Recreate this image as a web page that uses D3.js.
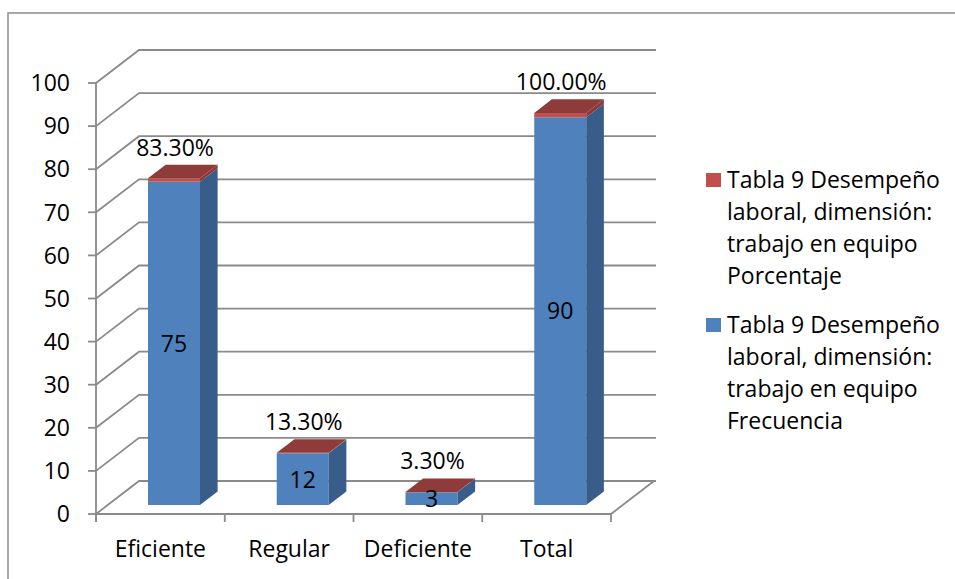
<!DOCTYPE html>
<html>
<head>
<meta charset="utf-8">
<script src="https://cdn.jsdelivr.net/npm/d3@7/dist/d3.min.js"></script>
<style>
  html, body { margin: 0; padding: 0; background: #fff; }
  svg { display: block; }
  text { font-family: "Open Sans", "Noto Sans", sans-serif; fill: #000; }
</style>
</head>
<body>
<svg id="chart" width="955" height="579"></svg>
<script>
// Categories and the two stacked series
const categories = ["Eficiente", "Regular", "Deficiente", "Total"];
const frecuencia = [75, 12, 3, 90];
const porcentaje = [0.833, 0.133, 0.033, 1.0];
const yTicks = [0, 10, 20, 30, 40, 50, 60, 70, 80, 90, 100];
const legendLabels = [
  ["Tabla 9 Desempeño", "laboral, dimensión:", "trabajo en equipo", "Porcentaje"],
  ["Tabla 9 Desempeño", "laboral, dimensión:", "trabajo en equipo", "Frecuencia"]
];

const svg = d3.select("#chart");

// Outer frame
svg.append("rect")
  .attr("x", 8).attr("y", 13).attr("width", 1000).attr("height", 700)
  .attr("fill", "none").attr("stroke", "#8c8c8c").attr("stroke-width", 1.5);

// Plot geometry: front plane and oblique depth vector
const left = 96, right = 611;
const DX = 43, DY = 33;
const x = d3.scaleBand().domain(categories).range([left, right]).padding(0);
const y = d3.scaleLinear().domain([0, 100]).range([514, 83]);

// project a point (screen x on front plane, value, depth 0..1)
const P = (px, v, z) => [px + z * DX, y(v) - z * DY];

const grid = svg.append("g").attr("stroke", "#8a8a8a").attr("stroke-width", 1.8).attr("fill", "none");

// Gridlines: left wall diagonal + back wall horizontal
yTicks.forEach(v => {
  const a = P(left, v, 0), b = P(left, v, 1), c = P(right + 2, v, 1);
  grid.append("path").attr("d", `M${a[0]},${a[1]}L${b[0]},${b[1]}L${c[0]},${c[1]}`);
});

// Floor front and right edges
{
  const a = P(left, 0, 0), b = P(right, 0, 0), c = P(right, 0, 1);
  grid.append("path").attr("d", `M${a[0]},${a[1]}L${b[0]},${b[1]}L${c[0]},${c[1]}`);
}

// Vertical value axis with ticks
grid.append("line").attr("x1", left).attr("x2", left).attr("y1", y(100)).attr("y2", y(0) + 8);
yTicks.forEach(v => {
  grid.append("line").attr("x1", left - 8).attr("x2", left).attr("y1", y(v)).attr("y2", y(v));
});
// Category ticks
const bounds = categories.map(c => x(c)).concat([right]);
bounds.forEach(b => {
  grid.append("line").attr("x1", b).attr("x2", b).attr("y1", y(0)).attr("y2", y(0) + 8);
});

// Value tick labels
svg.append("g").selectAll("text").data(yTicks).join("text")
  .attr("x", 70).attr("y", d => y(d)).attr("dy", "0.36em")
  .attr("text-anchor", "end").attr("font-size", 23)
  .text(d => d);

// Category labels
svg.append("g").selectAll("text").data(categories).join("text")
  .attr("x", d => x(d) + x.bandwidth() / 2).attr("y", 557)
  .attr("text-anchor", "middle").attr("font-size", 23)
  .text(d => d);

// Bars (3D stacked boxes)
const colors = {
  blue: { front: "#4f81bd", side: "#385d8a" },
  red: { front: "#c0504d", side: "#8c3a38", top: "#8e3b3a" }
};
const z0 = 0.27, z1 = 0.68, barW = 52, shift = 2;
const barsG = svg.append("g");
const poly = pts => "M" + pts.map(p => p.join(",")).join("L") + "Z";

function box(g, cx, v0, v1, col) {
  const xl = cx - barW / 2, xr = cx + barW / 2;
  const f = [P(xl, v0, z0), P(xr, v0, z0), P(xr, v1, z0), P(xl, v1, z0)];
  const s = [P(xr, v0, z0), P(xr, v0, z1), P(xr, v1, z1), P(xr, v1, z0)];
  const t = [P(xl, v1, z0), P(xr, v1, z0), P(xr, v1, z1), P(xl, v1, z1)];
  g.append("path").attr("d", poly(f)).attr("fill", col.front);
  g.append("path").attr("d", poly(s)).attr("fill", col.side);
  return poly(t);
}

categories.forEach((c, i) => {
  const cx = x(c) + x.bandwidth() / 2 + shift;
  const g = barsG.append("g");
  box(g, cx, 0, frecuencia[i], colors.blue);
  const top = box(g, cx, frecuencia[i], frecuencia[i] + porcentaje[i], colors.red);
  g.append("path").attr("d", top).attr("fill", colors.red.top);
});

// Data labels
const fmtPct = d3.format(".2%");
categories.forEach((c, i) => {
  const cx = x(c) + x.bandwidth() / 2 + shift;
  const mid = P(cx, frecuencia[i] / 2, z0);
  svg.append("text")
    .attr("x", mid[0]).attr("y", mid[1]).attr("dy", "0.36em")
    .attr("text-anchor", "middle").attr("font-size", 23)
    .text(frecuencia[i]);
  const tp = P(cx, frecuencia[i] + porcentaje[i], z1);
  svg.append("text")
    .attr("x", mid[0] + 1).attr("y", tp[1] - 9)
    .attr("text-anchor", "middle").attr("font-size", 23)
    .text(fmtPct(porcentaje[i]));
});

// Legend
const legend = svg.append("g");
const legendColors = [colors.red.front, colors.blue.front];
legendLabels.forEach((lines, k) => {
  const top = 173 + k * 145;
  legend.append("rect").attr("x", 706).attr("y", top).attr("width", 15).attr("height", 14)
    .attr("fill", legendColors[k]);
  lines.forEach((ln, j) => {
    legend.append("text")
      .attr("x", 727).attr("y", top + 7 + j * 32).attr("dy", "0.36em")
      .attr("font-size", 23).text(ln);
  });
});
</script>
</body>
</html>
